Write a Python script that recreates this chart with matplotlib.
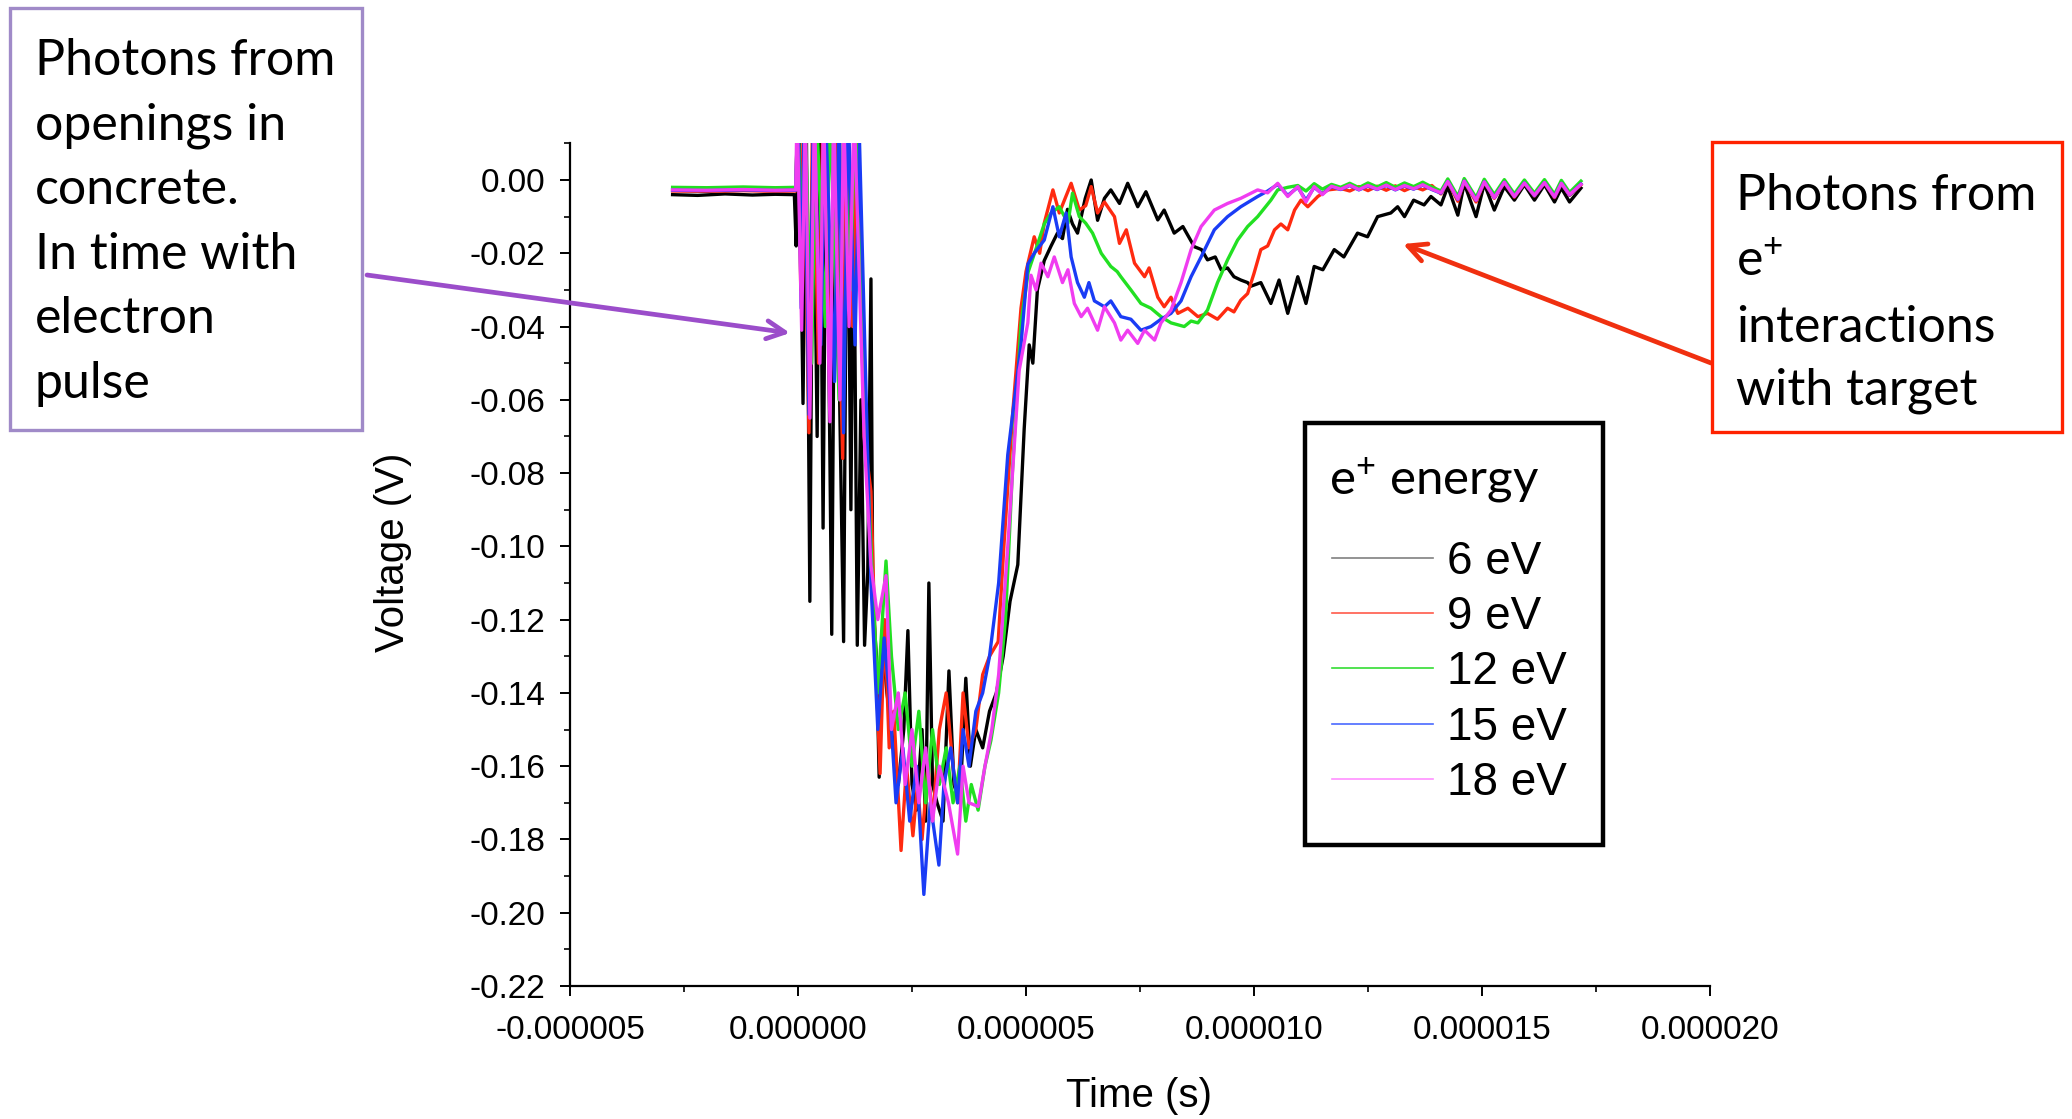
import matplotlib.pyplot as plt
import numpy as np
from matplotlib.lines import Line2D
from matplotlib.patches import Rectangle
from matplotlib.ticker import FixedLocator, FormatStrFormatter, MultipleLocator

plt.rcParams.update({
    'font.family': 'Liberation Sans',
    'axes.unicode_minus': False,
    'mathtext.fontset': 'custom',
    'mathtext.rm': 'Lato',
    'mathtext.it': 'Lato:italic',
    'mathtext.bf': 'Lato:bold',
})

# energies and colours of the five traces
energies = ['6 eV', '9 eV', '12 eV', '15 eV', '18 eV']
line_colors = ['#000000', '#ff2a10', '#22e022', '#1a3cf5', '#f03cf0']
legend_colors = ['#808080', '#ff5a4a', '#33dd33', '#4a6aff', '#ff90ff']

# traces: (time in microseconds, voltage in V)
trace_6ev = [
    (-2.75, -0.0040), (-2.2, -0.0042), (-1.6, -0.0038), (-1.0, -0.0041), (-0.5, -0.0039),
    (-0.08, -0.0040), (-0.04, -0.018), (0.02, 0.020), (0.11, -0.061), (0.18, 0.020),
    (0.26, -0.115), (0.33, 0.020), (0.42, -0.070), (0.48, 0.020), (0.55, -0.095),
    (0.62, 0.020), (0.74, -0.124), (0.82, 0.020), (0.90, -0.050), (1.00, -0.126),
    (1.08, 0.020), (1.16, -0.090), (1.22, 0.000), (1.30, -0.127), (1.38, -0.060),
    (1.46, -0.127), (1.53, -0.107), (1.60, -0.027), (1.64, -0.115), (1.72, -0.130),
    (1.78, -0.163), (1.85, -0.125), (1.95, -0.140), (2.05, -0.150), (2.20, -0.165),
    (2.32, -0.150), (2.41, -0.123), (2.50, -0.165), (2.60, -0.172), (2.72, -0.150),
    (2.80, -0.175), (2.87, -0.110), (2.95, -0.165), (3.05, -0.170), (3.18, -0.175),
    (3.31, -0.134), (3.42, -0.165), (3.55, -0.170), (3.68, -0.136), (3.78, -0.160),
    (3.90, -0.150), (4.05, -0.155), (4.20, -0.145), (4.35, -0.140), (4.50, -0.130),
    (4.65, -0.115), (4.82, -0.105), (4.96, -0.068), (5.07, -0.045), (5.15, -0.050),
    (5.25, -0.030), (5.40, -0.022), (5.55, -0.018), (5.69, -0.0145), (5.80, -0.016),
    (5.91, -0.008), (6.02, -0.012), (6.13, -0.0145), (6.30, -0.005), (6.43, 0.000),
    (6.57, -0.011), (6.72, -0.005), (6.86, -0.0027), (7.05, -0.0064), (7.23, -0.0009),
    (7.45, -0.0073), (7.63, -0.0032), (7.89, -0.0109), (8.03, -0.0082), (8.25, -0.0145),
    (8.44, -0.0127), (8.69, -0.0182), (8.85, -0.019), (8.98, -0.0218), (9.15, -0.021),
    (9.28, -0.0245), (9.42, -0.024), (9.56, -0.0264), (9.71, -0.0273), (9.86, -0.028),
    (9.93, -0.029), (10.15, -0.028), (10.37, -0.0337), (10.55, -0.0273), (10.74, -0.0364),
    (10.96, -0.0264), (11.14, -0.0337), (11.32, -0.0236), (11.51, -0.0245), (11.76, -0.019),
    (11.97, -0.021), (12.27, -0.0145), (12.49, -0.0155), (12.71, -0.010), (13.00, -0.009),
    (13.15, -0.0073), (13.30, -0.010), (13.50, -0.0055), (13.73, -0.0068), (13.88, -0.0045),
    (14.10, -0.0068), (14.25, -0.0018), (14.47, -0.0096), (14.61, -0.0009), (14.87, -0.010),
    (15.05, -0.0010), (15.27, -0.0082), (15.49, -0.0018), (15.71, -0.0055), (15.93, -0.0013),
    (16.15, -0.0055), (16.37, -0.0013), (16.59, -0.0060), (16.74, -0.0022), (16.92, -0.0060),
    (17.17, -0.0022),
]

trace_9ev = [
    (-2.75, -0.0030), (-2.0, -0.0031), (-1.2, -0.0029), (-0.5, -0.0031), (-0.05, -0.0030),
    (0.00, 0.020), (0.06, -0.030), (0.12, 0.020), (0.24, -0.069), (0.32, 0.020),
    (0.45, -0.050), (0.55, 0.020), (0.70, -0.055), (0.80, 0.020), (0.98, -0.076),
    (1.06, 0.020), (1.20, -0.040), (1.30, 0.020), (1.45, -0.070), (1.60, -0.085),
    (1.70, -0.130), (1.80, -0.162), (1.90, -0.120), (2.00, -0.155), (2.10, -0.145),
    (2.26, -0.183), (2.38, -0.160), (2.52, -0.179), (2.62, -0.165), (2.72, -0.180),
    (2.85, -0.160), (2.95, -0.175), (3.10, -0.150), (3.25, -0.140), (3.40, -0.160),
    (3.50, -0.170), (3.62, -0.140), (3.75, -0.155), (3.90, -0.150), (4.05, -0.135),
    (4.20, -0.130), (4.39, -0.126), (4.52, -0.099), (4.70, -0.065), (4.89, -0.035),
    (5.00, -0.025), (5.18, -0.0155), (5.30, -0.020), (5.40, -0.0118), (5.59, -0.0027),
    (5.73, -0.009), (5.99, -0.0009), (6.17, -0.0082), (6.31, -0.007), (6.43, -0.0018),
    (6.57, -0.009), (6.72, -0.006), (6.94, -0.010), (7.05, -0.0173), (7.20, -0.0136),
    (7.38, -0.0227), (7.60, -0.0264), (7.70, -0.024), (7.89, -0.032), (8.03, -0.0346),
    (8.18, -0.032), (8.33, -0.0364), (8.55, -0.035), (8.77, -0.0373), (8.98, -0.0364),
    (9.20, -0.038), (9.42, -0.035), (9.56, -0.036), (9.71, -0.0328), (9.86, -0.031),
    (10.00, -0.0255), (10.15, -0.019), (10.30, -0.018), (10.45, -0.0136), (10.59, -0.012),
    (10.74, -0.0136), (10.89, -0.0082), (11.03, -0.0055), (11.18, -0.0073), (11.40, -0.0045),
    (11.62, -0.0027), (11.90, -0.0023), (12.10, -0.0030), (12.30, -0.0018), (12.50, -0.0029),
    (12.70, -0.0017), (12.90, -0.0028), (13.10, -0.0016), (13.30, -0.0029), (13.50, -0.0018),
    (13.70, -0.0027), (13.90, -0.0015), (14.10, -0.0038), (14.25, -0.0005), (14.47, -0.0058),
    (14.61, -0.0004), (14.87, -0.0060), (15.05, -0.0006), (15.27, -0.0050), (15.49, -0.0007),
    (15.71, -0.0047), (15.93, -0.0009), (16.15, -0.0044), (16.37, -0.0008), (16.59, -0.0048),
    (16.74, -0.0010), (16.92, -0.0042), (17.17, -0.0013),
]

trace_12ev = [
    (-2.75, -0.0020), (-2.0, -0.0021), (-1.2, -0.0019), (-0.5, -0.0021), (-0.05, -0.0020),
    (0.00, 0.020), (0.08, -0.020), (0.15, 0.020), (0.30, -0.050), (0.40, 0.020),
    (0.60, -0.040), (0.70, 0.020), (0.90, -0.060), (1.00, 0.020), (1.15, -0.030),
    (1.25, 0.020), (1.45, -0.060), (1.60, -0.100), (1.75, -0.140), (1.93, -0.104),
    (2.05, -0.130), (2.20, -0.150), (2.35, -0.140), (2.50, -0.160), (2.65, -0.145),
    (2.80, -0.170), (2.95, -0.150), (3.10, -0.165), (3.25, -0.155), (3.40, -0.170),
    (3.55, -0.160), (3.68, -0.175), (3.80, -0.165), (3.95, -0.172), (4.10, -0.160),
    (4.23, -0.153), (4.40, -0.140), (4.55, -0.120), (4.70, -0.080), (4.89, -0.039),
    (5.05, -0.025), (5.26, -0.0173), (5.40, -0.012), (5.55, -0.009), (5.73, -0.0073),
    (5.92, -0.0118), (6.02, -0.0036), (6.17, -0.010), (6.31, -0.0118), (6.46, -0.0145),
    (6.65, -0.020), (6.86, -0.0236), (7.00, -0.025), (7.08, -0.0264), (7.30, -0.030),
    (7.52, -0.0337), (7.74, -0.035), (7.96, -0.0373), (8.18, -0.039), (8.47, -0.040),
    (8.62, -0.0385), (8.77, -0.039), (8.98, -0.0355), (9.20, -0.028), (9.42, -0.0218),
    (9.64, -0.0164), (9.86, -0.0127), (10.08, -0.010), (10.37, -0.0055), (10.52, -0.0027),
    (10.74, -0.0020), (10.96, -0.0015), (11.14, -0.0030), (11.32, -0.0010), (11.50, -0.0025),
    (11.70, -0.0012), (11.90, -0.0020), (12.10, -0.0009), (12.30, -0.0021), (12.50, -0.0008),
    (12.70, -0.0019), (12.90, -0.0007), (13.10, -0.0020), (13.30, -0.0008), (13.50, -0.0018),
    (13.70, -0.0006), (13.90, -0.0019), (14.10, -0.0030), (14.25, 0.0003), (14.47, -0.0045),
    (14.61, 0.0004), (14.87, -0.0048), (15.05, 0.0002), (15.27, -0.0040), (15.49, 0.0001),
    (15.71, -0.0038), (15.93, 0.0000), (16.15, -0.0036), (16.37, 0.0001), (16.59, -0.0039),
    (16.74, -0.0001), (16.92, -0.0034), (17.17, -0.0003),
]

trace_15ev = [
    (-2.75, -0.0028), (-2.0, -0.0029), (-1.2, -0.0027), (-0.5, -0.0029), (-0.05, -0.0028),
    (0.00, 0.020), (0.07, -0.035), (0.14, 0.020), (0.24, -0.064), (0.34, 0.020),
    (0.50, -0.045), (0.60, 0.020), (0.80, -0.055), (0.90, 0.020), (1.00, -0.069),
    (1.10, 0.020), (1.25, -0.045), (1.35, 0.010), (1.60, -0.110), (1.75, -0.150),
    (1.89, -0.125), (2.00, -0.140), (2.15, -0.170), (2.30, -0.155), (2.45, -0.175),
    (2.60, -0.160), (2.76, -0.195), (2.90, -0.170), (3.09, -0.187), (3.20, -0.165),
    (3.35, -0.155), (3.50, -0.170), (3.62, -0.150), (3.75, -0.160), (3.90, -0.145),
    (4.05, -0.140), (4.20, -0.130), (4.40, -0.110), (4.60, -0.075), (4.89, -0.045),
    (5.04, -0.023), (5.18, -0.020), (5.40, -0.0164), (5.59, -0.0073), (5.73, -0.0155),
    (5.88, -0.009), (5.99, -0.021), (6.13, -0.028), (6.28, -0.032), (6.38, -0.028),
    (6.50, -0.033), (6.72, -0.0346), (6.86, -0.033), (7.08, -0.0373), (7.30, -0.038),
    (7.52, -0.041), (7.74, -0.040), (7.96, -0.038), (8.18, -0.0364), (8.40, -0.033),
    (8.62, -0.0264), (8.84, -0.021), (9.13, -0.0136), (9.42, -0.010), (9.71, -0.0073),
    (10.08, -0.0045), (10.30, -0.0030), (10.52, -0.0012), (10.74, -0.0042), (10.96, -0.0020),
    (11.14, -0.0055), (11.32, -0.0020), (11.50, -0.0038), (11.70, -0.0018), (11.90, -0.0026),
    (12.10, -0.0015), (12.30, -0.0027), (12.50, -0.0016), (12.70, -0.0026), (12.90, -0.0015),
    (13.10, -0.0027), (13.30, -0.0016), (13.50, -0.0025), (13.70, -0.0014), (13.90, -0.0026),
    (14.10, -0.0036), (14.25, -0.0004), (14.47, -0.0053), (14.61, -0.0003), (14.87, -0.0055),
    (15.05, -0.0005), (15.27, -0.0048), (15.49, -0.0006), (15.71, -0.0045), (15.93, -0.0008),
    (16.15, -0.0043), (16.37, -0.0007), (16.59, -0.0046), (16.74, -0.0009), (16.92, -0.0041),
    (17.17, -0.0011),
]

trace_18ev = [
    (-2.75, -0.0027), (-2.0, -0.0028), (-1.2, -0.0026), (-0.5, -0.0028), (-0.05, -0.0027),
    (-0.02, 0.020), (0.08, -0.041), (0.16, 0.020), (0.26, -0.065), (0.36, 0.020),
    (0.48, -0.050), (0.56, 0.020), (0.70, -0.066), (0.78, 0.020), (0.92, -0.060),
    (1.00, 0.020), (1.12, -0.040), (1.23, 0.020), (1.45, -0.070), (1.60, -0.105),
    (1.75, -0.120), (1.93, -0.108), (2.05, -0.150), (2.20, -0.140), (2.35, -0.165),
    (2.50, -0.150), (2.65, -0.170), (2.80, -0.155), (2.95, -0.175), (3.10, -0.160),
    (3.30, -0.170), (3.50, -0.184), (3.62, -0.160), (3.75, -0.170), (3.95, -0.171),
    (4.10, -0.160), (4.25, -0.150), (4.40, -0.135), (4.60, -0.100), (4.85, -0.052),
    (5.04, -0.039), (5.11, -0.026), (5.22, -0.030), (5.33, -0.0227), (5.48, -0.0264),
    (5.62, -0.021), (5.80, -0.028), (5.92, -0.0245), (6.06, -0.0337), (6.21, -0.0373),
    (6.35, -0.035), (6.57, -0.041), (6.72, -0.0346), (6.94, -0.039), (7.08, -0.0437),
    (7.23, -0.041), (7.45, -0.0446), (7.60, -0.041), (7.82, -0.0437), (7.96, -0.039),
    (8.18, -0.0355), (8.40, -0.028), (8.62, -0.019), (8.84, -0.0127), (9.13, -0.0082),
    (9.42, -0.0064), (9.71, -0.0050), (10.08, -0.0027), (10.30, -0.0035), (10.52, -0.0009),
    (10.74, -0.0045), (10.96, -0.0018), (11.14, -0.0060), (11.32, -0.0018), (11.50, -0.0040),
    (11.70, -0.0017), (11.90, -0.0025), (12.10, -0.0014), (12.30, -0.0026), (12.50, -0.0015),
    (12.70, -0.0025), (12.90, -0.0014), (13.10, -0.0026), (13.30, -0.0015), (13.50, -0.0024),
    (13.70, -0.0013), (13.90, -0.0025), (14.10, -0.0035), (14.25, -0.0004), (14.47, -0.0052),
    (14.61, -0.0003), (14.87, -0.0055), (15.05, -0.0005), (15.27, -0.0048), (15.49, -0.0006),
    (15.71, -0.0045), (15.93, -0.0008), (16.15, -0.0042), (16.37, -0.0007), (16.59, -0.0046),
    (16.74, -0.0009), (16.92, -0.0040), (17.17, -0.0012),
]

traces = [trace_6ev, trace_9ev, trace_12ev, trace_15ev, trace_18ev]

# axis ticks
x_major = [-5e-6, 0.0, 5e-6, 10e-6, 15e-6, 20e-6]
y_major = [0.00, -0.02, -0.04, -0.06, -0.08, -0.10, -0.12, -0.14, -0.16, -0.18, -0.20, -0.22]

left_note = ['Photons from', 'openings in', 'concrete.', 'In time with', 'electron', 'pulse']
right_note = ['Photons from', 'e$^{+}$', 'interactions', 'with target']

W, H = 2072, 1119


def fx(px):
    return px / W


def fy(py):
    return 1 - py / H


fig = plt.figure(figsize=(W / 100, H / 100), dpi=100, facecolor='white')
ax = fig.add_axes([fx(570), fy(986), 1140 / W, 843 / H])

for pts, color in zip(traces, line_colors):
    arr = np.array(pts)
    ax.plot(arr[:, 0] * 1e-6, arr[:, 1], color=color, lw=2.4)

ax.set_xlim(-5e-6, 20e-6)
ax.set_ylim(-0.22, 0.0101)
ax.xaxis.set_major_locator(FixedLocator(x_major))
ax.xaxis.set_major_formatter(FormatStrFormatter('%.6f'))
ax.xaxis.set_minor_locator(MultipleLocator(2.5e-6))
ax.yaxis.set_major_locator(FixedLocator(y_major))
ax.yaxis.set_major_formatter(FormatStrFormatter('%.2f'))
ax.yaxis.set_minor_locator(MultipleLocator(0.01))

for side in ['top', 'right']:
    ax.spines[side].set_visible(False)
for side in ['left', 'bottom']:
    ax.spines[side].set_linewidth(1.6)

ax.tick_params(which='major', direction='out', length=7, width=1.4, labelsize=24)
ax.tick_params(which='minor', direction='out', length=4, width=1.2)
ax.tick_params(axis='y', pad=11)
ax.tick_params(axis='x', pad=14)

ax.set_xlabel('Time (s)', fontsize=29, va='center')
ax.set_ylabel('Voltage (V)', fontsize=29, va='center')
ax.xaxis.set_label_coords(0.499, -0.13)
ax.yaxis.set_label_coords(-0.155, 0.515)

# legend: frame drawn separately, title as own text
handles = [Line2D([], [], color=c, lw=1.2) for c in legend_colors]
ax.legend(handles, energies, loc='upper left', bbox_to_anchor=(fx(1332), fy(540)),
          bbox_transform=fig.transFigure, frameon=False, fontsize=33,
          handlelength=2.2, handletextpad=0.3, labelspacing=0.245, borderpad=0,
          borderaxespad=0)
fig.add_artist(Rectangle((fx(1305), fy(845)), 298 / W, 422 / H, transform=fig.transFigure,
                         fill=False, ec='black', lw=3.2))
fig.text(fx(1329), fy(494), 'e$^{+}$ energy', family='Lato', fontsize=35.5, va='baseline')

# purple note, left
fig.add_artist(Rectangle((fx(10), fy(430)), 352 / W, 422 / H, transform=fig.transFigure,
                         fill=False, ec='#a08ac8', lw=2.4))
for i, line in enumerate(left_note):
    fig.text(fx(35), fy(75 + i * 64.6), line, family='Lato', fontsize=36, va='baseline')

# red note, right
fig.add_artist(Rectangle((fx(1712), fy(432)), 350 / W, 290 / H, transform=fig.transFigure,
                         fill=False, ec='#ff2200', lw=2.4))
for line, base in zip(right_note, [210, 276, 342, 405]):
    fig.text(fx(1736), fy(base), line, family='Lato', fontsize=36, va='baseline')

# arrows
arrow_style = '->,head_length=1.3,head_width=0.65'
ax.annotate('', xy=(790, H - 333), xytext=(367, H - 275), xycoords='figure pixels',
            textcoords='figure pixels', annotation_clip=False,
            arrowprops=dict(arrowstyle=arrow_style, lw=3.4, color='#9b4dca',
                            shrinkA=0, shrinkB=0))
ax.annotate('', xy=(1403, H - 244), xytext=(1711, H - 363), xycoords='figure pixels',
            textcoords='figure pixels', annotation_clip=False,
            arrowprops=dict(arrowstyle=arrow_style, lw=3.4, color='#f03010',
                            shrinkA=0, shrinkB=0))

plt.savefig('out.png', dpi=100, facecolor='white')
